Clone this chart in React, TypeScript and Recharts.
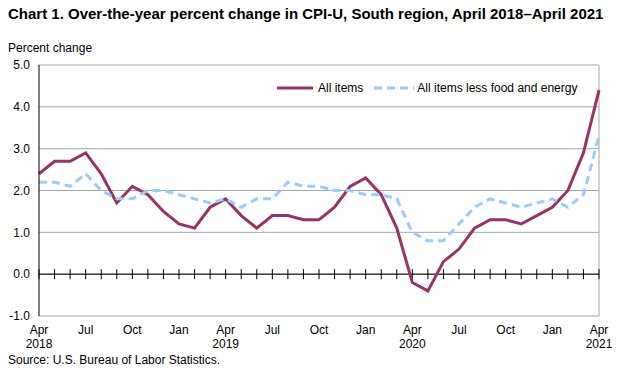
import { LineChart, Line, XAxis, YAxis, CartesianGrid, ReferenceLine } from 'recharts';

const months = [
  'Apr 2018', 'May 2018', 'Jun 2018', 'Jul 2018', 'Aug 2018', 'Sep 2018', 'Oct 2018', 'Nov 2018', 'Dec 2018',
  'Jan 2019', 'Feb 2019', 'Mar 2019', 'Apr 2019', 'May 2019', 'Jun 2019', 'Jul 2019', 'Aug 2019', 'Sep 2019',
  'Oct 2019', 'Nov 2019', 'Dec 2019', 'Jan 2020', 'Feb 2020', 'Mar 2020', 'Apr 2020', 'May 2020', 'Jun 2020',
  'Jul 2020', 'Aug 2020', 'Sep 2020', 'Oct 2020', 'Nov 2020', 'Dec 2020', 'Jan 2021', 'Feb 2021', 'Mar 2021',
  'Apr 2021',
];

const allItems = [
  2.4, 2.7, 2.7, 2.9, 2.4, 1.7, 2.1, 1.9, 1.5, 1.2, 1.1, 1.6, 1.8, 1.4, 1.1, 1.4, 1.4, 1.3, 1.3,
  1.6, 2.1, 2.3, 1.9, 1.1, -0.2, -0.4, 0.3, 0.6, 1.1, 1.3, 1.3, 1.2, 1.4, 1.6, 2.0, 2.9, 4.4,
];

const lessFoodEnergy = [
  2.2, 2.2, 2.1, 2.4, 2.0, 1.8, 1.8, 2.0, 2.0, 1.9, 1.8, 1.7, 1.8, 1.6, 1.8, 1.8, 2.2, 2.1, 2.1,
  2.0, 2.0, 1.9, 1.9, 1.8, 1.0, 0.8, 0.8, 1.2, 1.6, 1.8, 1.7, 1.6, 1.7, 1.8, 1.6, 1.9, 3.3,
];

const yTicks = [-1, 0, 1, 2, 3, 4, 5];

const MAROON = '#993366';
const LIGHT_BLUE = '#99CCFF';
const FONT = '"Liberation Sans", Arial, sans-serif';

const data = months.map((m, i) => ({
  month: m,
  all: allItems[i],
  core: lessFoodEnergy[i],
}));

// only every third month gets a label, April also gets the year
const MonthTick = ({ x, y, payload, index }: any) => {
  if (index % 3 !== 0) return null;
  const [mon, year] = payload.value.split(' ');
  return (
    <g transform={`translate(${x},${y})`}>
      <text x={0} y={0} dy={10} textAnchor="middle" fontSize={12} fill="#000" fontFamily={FONT}>
        {mon}
      </text>
      {mon === 'Apr' && (
        <text x={0} y={0} dy={24} textAnchor="middle" fontSize={12} fill="#000" fontFamily={FONT}>
          {year}
        </text>
      )}
    </g>
  );
};

const ChartLegend = () => (
  <div
    style={{
      position: 'absolute',
      left: 276,
      top: 81,
      display: 'flex',
      alignItems: 'center',
      fontFamily: FONT,
      fontSize: 12,
      color: '#000',
      whiteSpace: 'nowrap',
    }}
  >
    <svg width={38} height={8}>
      <line x1={1} y1={4} x2={37} y2={4} stroke={MAROON} strokeWidth={3} />
    </svg>
    <span style={{ marginLeft: 4, marginRight: 10 }}>All items</span>
    <svg width={42} height={8}>
      <line x1={1} y1={4} x2={41} y2={4} stroke={LIGHT_BLUE} strokeWidth={3} strokeDasharray="8 5" />
    </svg>
    <span style={{ marginLeft: 2 }}>All items less food and energy</span>
  </div>
);

export default function App() {
  return (
    <div style={{ position: 'absolute', left: 0, top: 0, width: 617, height: 377, background: '#fff', fontFamily: FONT }}>
      <div style={{ position: 'absolute', left: 8, top: 5, fontSize: 15, fontWeight: 'bold', whiteSpace: 'nowrap' }}>
        Chart 1. Over-the-year percent change in CPI-U, South region, April 2018–April 2021
      </div>
      <div style={{ position: 'absolute', left: 8, top: 41, fontSize: 12 }}>Percent change</div>
      <div style={{ position: 'absolute', left: 8, top: 353, fontSize: 12 }}>Source: U.S. Bureau of Labor Statistics.</div>
      <LineChart width={617} height={377} data={data} margin={{ top: 65, right: 18, bottom: 21, left: 0 }}>
        <CartesianGrid vertical={false} stroke="#a6a6a6" />
        <XAxis
          dataKey="month"
          interval={0}
          tick={<MonthTick />}
          tickLine={false}
          axisLine={false}
          height={40}
        />
        <YAxis
          width={39}
          domain={[-1, 5]}
          ticks={yTicks}
          interval={0}
          tickFormatter={(v: number) => v.toFixed(1)}
          tick={{ fontSize: 12, fill: '#000', fontFamily: FONT }}
          tickLine={false}
          tickSize={0}
          tickMargin={9}
          axisLine={{ stroke: '#000' }}
        />
        <ReferenceLine x={months[months.length - 1]} stroke="#a6a6a6" />
        <ReferenceLine y={0} stroke="#000" />
        {months.map((m) => (
          <ReferenceLine
            key={m}
            segment={[{ x: m, y: -0.12 }, { x: m, y: 0.12 }]}
            stroke="#000"
          />
        ))}
        <Line
          dataKey="all"
          stroke={MAROON}
          strokeWidth={3}
          dot={false}
          isAnimationActive={false}
        />
        <Line
          dataKey="core"
          stroke={LIGHT_BLUE}
          strokeWidth={3}
          strokeDasharray="8 5"
          dot={false}
          isAnimationActive={false}
        />
      </LineChart>
      <ChartLegend />
    </div>
  );
}
